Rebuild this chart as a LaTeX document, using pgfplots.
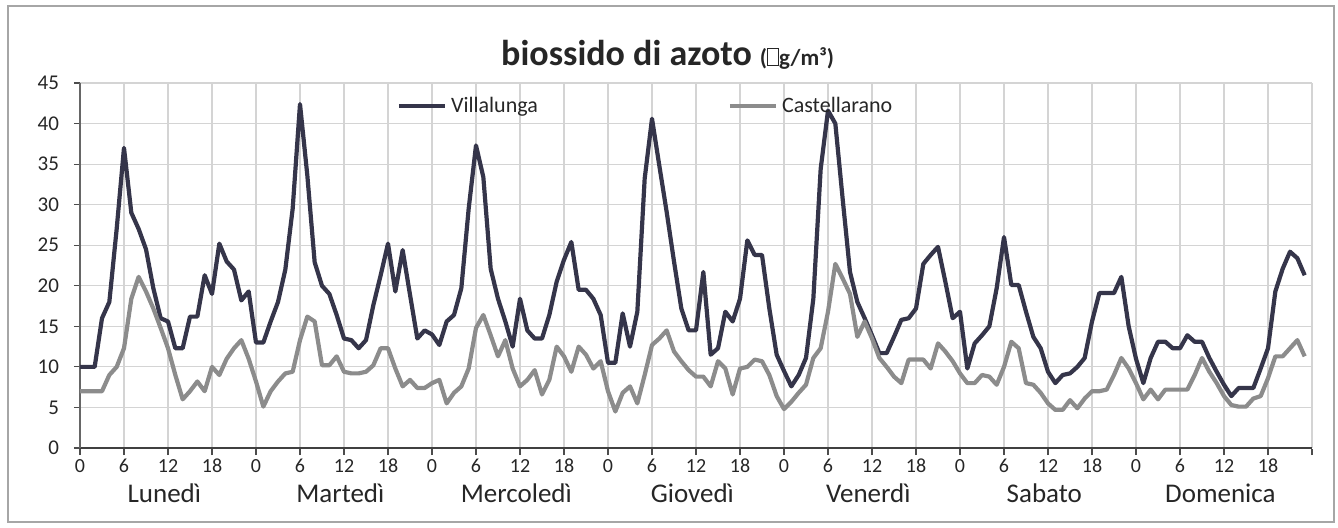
\documentclass[border=0pt]{standalone}
\usepackage{pgfplots}
\pgfplotsset{compat=1.18}
\usepackage{pgfplotstable}
\usepackage{fontspec}
\setmainfont{Carlito}

\definecolor{villa}{HTML}{35354A}
\definecolor{castel}{HTML}{8C8C8C}
\definecolor{gridc}{HTML}{D4D4D4}

% ora (0-167, da lunedi 0:00), Villalunga, Castellarano
\pgfplotstableread[row sep=\\]{
h V C \\
0 10 7 \\ 1 10 7 \\ 2 10 7 \\ 3 16 7 \\ 4 18 9 \\ 5 27 10 \\
6 37 12.3 \\ 7 29 18.4 \\ 8 27 21.1 \\ 9 24.5 19.3 \\ 10 19.7 17.2 \\ 11 16 14.8 \\
12 15.6 12.3 \\ 13 12.3 9 \\ 14 12.3 6 \\ 15 16.2 7 \\ 16 16.2 8.2 \\ 17 21.3 7 \\
18 19 10 \\ 19 25.2 9 \\ 20 23 11 \\ 21 22 12.3 \\ 22 18.2 13.3 \\ 23 19.3 11 \\
24 13 8.2 \\ 25 13 5.1 \\ 26 15.6 7 \\ 27 18 8.2 \\ 28 22 9.2 \\ 29 29.5 9.4 \\
30 42.4 13.3 \\ 31 33.6 16.2 \\ 32 22.9 15.6 \\ 33 20 10.2 \\ 34 19 10.2 \\ 35 16.4 11.3 \\
36 13.5 9.4 \\ 37 13.3 9.2 \\ 38 12.3 9.2 \\ 39 13.3 9.4 \\ 40 17.6 10.2 \\ 41 21.3 12.3 \\
42 25.2 12.3 \\ 43 19.3 9.8 \\ 44 24.4 7.6 \\ 45 18.9 8.4 \\ 46 13.5 7.4 \\ 47 14.5 7.4 \\
48 14 8 \\ 49 12.7 8.4 \\ 50 15.6 5.5 \\ 51 16.4 6.8 \\ 52 19.7 7.6 \\ 53 29.5 9.8 \\
54 37.3 14.8 \\ 55 33.4 16.4 \\ 56 22.1 13.9 \\ 57 18.4 11.3 \\ 58 15.6 13.3 \\ 59 12.5 9.8 \\
60 18.4 7.6 \\ 61 14.5 8.4 \\ 62 13.5 9.6 \\ 63 13.5 6.6 \\ 64 16.4 8.4 \\ 65 20.5 12.5 \\
66 23.2 11.3 \\ 67 25.4 9.4 \\ 68 19.5 12.5 \\ 69 19.5 11.5 \\ 70 18.4 9.8 \\ 71 16.4 10.7 \\
72 10.5 7 \\ 73 10.5 4.5 \\ 74 16.6 6.8 \\ 75 12.5 7.6 \\ 76 16.8 5.5 \\ 77 33.2 9 \\
78 40.6 12.7 \\ 79 34.8 13.5 \\ 80 29.1 14.5 \\ 81 23 11.9 \\ 82 17.2 10.7 \\ 83 14.5 9.6 \\
84 14.5 8.8 \\ 85 21.7 8.8 \\ 86 11.5 7.6 \\ 87 12.3 10.7 \\ 88 16.8 9.8 \\ 89 15.6 6.6 \\
90 18.4 9.8 \\ 91 25.6 10 \\ 92 23.8 10.9 \\ 93 23.8 10.7 \\ 94 17.2 9 \\ 95 11.5 6.4 \\
96 9.5 4.8 \\ 97 7.6 5.7 \\ 98 9 6.8 \\ 99 11.1 7.8 \\ 100 18.4 11.1 \\ 101 34.4 12.3 \\
102 41.6 16.8 \\ 103 40 22.7 \\ 104 30.7 20.9 \\ 105 21.7 19 \\ 106 18 13.7 \\ 107 16 15.6 \\
108 13.9 13.5 \\ 109 11.7 11.1 \\ 110 11.7 10 \\ 111 13.7 8.8 \\ 112 15.8 8 \\ 113 16 10.9 \\
114 17.2 10.9 \\ 115 22.7 10.9 \\ 116 23.8 9.8 \\ 117 24.8 12.9 \\ 118 20.5 11.9 \\ 119 16 10.7 \\
120 16.8 9.2 \\ 121 9.8 8 \\ 122 12.9 8 \\ 123 13.9 9 \\ 124 15 8.8 \\ 125 19.7 7.8 \\
126 26 10 \\ 127 20.1 13.1 \\ 128 20.1 12.3 \\ 129 16.8 8 \\ 130 13.7 7.8 \\ 131 12.3 6.8 \\
132 9.4 5.5 \\ 133 8 4.7 \\ 134 9 4.7 \\ 135 9.2 5.9 \\ 136 10 4.9 \\ 137 11.1 6.1 \\
138 15.6 7 \\ 139 19.1 7 \\ 140 19.1 7.2 \\ 141 19.1 9 \\ 142 21.1 11.1 \\ 143 15 9.8 \\
144 11 8 \\ 145 8 6 \\ 146 11.1 7.2 \\ 147 13.1 6 \\ 148 13.1 7.2 \\ 149 12.3 7.2 \\
150 12.3 7.2 \\ 151 13.9 7.2 \\ 152 13.1 9 \\ 153 13.1 11.1 \\ 154 11.1 9.4 \\ 155 9.4 8 \\
156 7.8 6.4 \\ 157 6.4 5.3 \\ 158 7.4 5.1 \\ 159 7.4 5.1 \\ 160 7.4 6.1 \\ 161 9.8 6.4 \\
162 12.3 8.6 \\ 163 19.3 11.3 \\ 164 22.1 11.3 \\ 165 24.2 12.3 \\ 166 23.4 13.3 \\ 167 21.3 11.3 \\
}\dati

\begin{document}
\begin{tikzpicture}
\useasboundingbox (-40pt,-39.5pt) rectangle (629pt,224pt);
\draw[gray!70, line width=0.8pt] (-36pt,-37pt) rectangle (627pt,221pt);
\begin{axis}[
    at={(0pt,0pt)}, anchor=origin,
    scale only axis,
    width=616pt, height=182.5pt,
    xmin=0, xmax=168,
    ymin=0, ymax=45,
    ytick={0,5,...,45},
    xtick={0,6,...,168},
    xticklabels={0,6,12,18,0,6,12,18,0,6,12,18,0,6,12,18,0,6,12,18,0,6,12,18,0,6,12,18,},
    grid=major,
    grid style={gridc, line width=0.6pt},
    axis x line=bottom,
    axis y line=left,
    axis line style={black!60, line width=0.8pt, -},
    x axis line style={black!75},
    tick style={black!70, line width=0.6pt},
    xtick pos=bottom,
    x tick style={yshift=-0.5pt},
    major tick length=3pt,
    tick align=outside,
    ticklabel style={font=\fontsize{10.5}{12}\selectfont, text=black!85},
    xticklabel style={font=\fontsize{10}{12}\selectfont, yshift=1pt},
    yticklabel style={xshift=-4pt},
    /pgf/number format/assume math mode=true,
    clip=false,
    legend style={draw=none, fill=none, at={(rel axis cs:0.252,0.985)}, anchor=north west,
        font=\fontsize{11}{13}\selectfont, text=black!85,
        /tikz/every even column/.append style={column sep=93pt}},
    legend columns=2,
    legend image code/.code={\draw[#1] (0pt,0pt) -- (23pt,0pt);},
    legend cell align=left,
]
\addplot[villa, line width=2.1pt, line join=round] table[x=h, y=V] {\dati};
\addlegendentry{Villalunga}
\addplot[castel, line width=2.1pt, line join=round] table[x=h, y=C] {\dati};
\addlegendentry{Castellarano}

\foreach \g/\d in {0/Lunedì, 1/Martedì, 2/Mercoledì, 3/Giovedì, 4/Venerdì, 5/Sabato, 6/Domenica} {
    \edef\tmp{\noexpand\node[font=\noexpand\fontsize{13.5}{15}\noexpand\selectfont, text=black!85, anchor=base]
        at ({axis cs:\g*24+11.5,0}) [yshift=-27pt] {\d};}
    \tmp
}
\node[anchor=base, text=black!85] at (rel axis cs:0.477,1) [yshift=9pt]
    {\fontsize{18}{21}\selectfont\bfseries biossido di azoto {\fontsize{11.5}{13}\selectfont(\fboxsep=0pt\fboxrule=0.5pt\fbox{\rule{0pt}{8pt}\hspace{5pt}}g/m³)}};
\end{axis}
\end{tikzpicture}
\end{document}
